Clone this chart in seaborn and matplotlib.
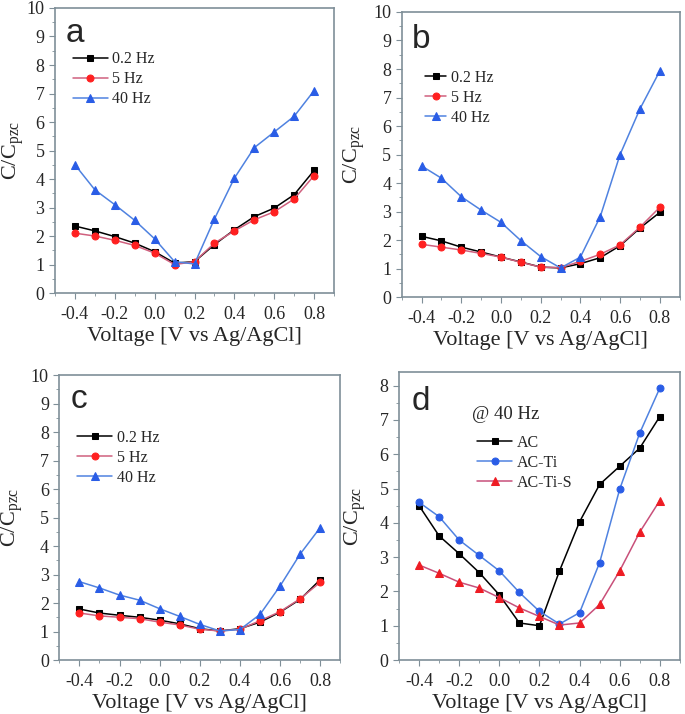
import numpy as np
import pandas as pd
import matplotlib
matplotlib.use('Agg')
import matplotlib.pyplot as plt
import seaborn as sns

sns.set_style('ticks')
plt.rcParams['font.family'] = ['Liberation Serif', 'DejaVu Serif']
plt.rcParams['mathtext.fontset'] = 'stix'

# voltages [V vs Ag/AgCl]
voltage = [-0.4, -0.3, -0.2, -0.1, 0.0, 0.1, 0.2, 0.3, 0.4, 0.5, 0.6, 0.7, 0.8]

# panel a: AC
a_02hz = [2.35, 2.18, 1.98, 1.75, 1.45, 1.05, 1.10, 1.70, 2.22, 2.68, 2.98, 3.45, 4.30]
a_5hz = [2.10, 2.00, 1.85, 1.67, 1.40, 1.00, 1.10, 1.75, 2.18, 2.57, 2.85, 3.30, 4.12]
a_40hz = [4.50, 3.62, 3.10, 2.55, 1.90, 1.10, 1.02, 2.60, 4.03, 5.10, 5.65, 6.20, 7.10]

# panel b: AC-Ti
b_02hz = [2.13, 1.97, 1.75, 1.58, 1.40, 1.23, 1.05, 1.02, 1.17, 1.38, 1.80, 2.42, 2.97]
b_5hz = [1.85, 1.75, 1.65, 1.53, 1.40, 1.22, 1.05, 1.03, 1.25, 1.50, 1.83, 2.45, 3.15]
b_40hz = [4.60, 4.17, 3.52, 3.05, 2.62, 1.98, 1.42, 1.02, 1.40, 2.82, 5.00, 6.60, 7.93]

# panel c: AC-Ti-S
c_02hz = [1.79, 1.65, 1.57, 1.50, 1.40, 1.27, 1.10, 1.02, 1.10, 1.33, 1.68, 2.13, 2.82]
c_5hz = [1.65, 1.55, 1.50, 1.45, 1.33, 1.23, 1.08, 1.02, 1.08, 1.38, 1.70, 2.15, 2.73]
c_40hz = [2.75, 2.53, 2.28, 2.10, 1.80, 1.53, 1.25, 1.02, 1.07, 1.60, 2.60, 3.72, 4.65]

# panel d: all samples at 40 Hz
d_ac = [4.50, 3.62, 3.10, 2.55, 1.90, 1.08, 1.00, 2.60, 4.03, 5.12, 5.65, 6.18, 7.10]
d_acti = [4.60, 4.18, 3.50, 3.05, 2.60, 1.97, 1.42, 1.05, 1.38, 2.84, 4.98, 6.62, 7.93]
d_actis = [2.77, 2.53, 2.27, 2.10, 1.82, 1.52, 1.27, 1.02, 1.08, 1.62, 2.60, 3.73, 4.65]

freq_labels = ['0.2 Hz', '5 Hz', '40 Hz']
sample_labels = ['AC', 'AC-Ti', 'AC-Ti-S']

spine_col = '#7f8f98'

fig = plt.figure(figsize=(6.85, 7.14), dpi=100)
ax_a = fig.add_axes([0.0803, 0.5896, 0.4073, 0.3992])
ax_b = fig.add_axes([0.5864, 0.5840, 0.4058, 0.3992])
ax_c = fig.add_axes([0.0866, 0.0756, 0.4102, 0.3990])
ax_d = fig.add_axes([0.5825, 0.0756, 0.4100, 0.4034])

freq_styles = [
    dict(line='black', mk='black', marker='s', ms=4.5),
    dict(line='#d0607e', mk='#ff2020', marker='o', ms=5),
    dict(line='#4f82e0', mk='#2a5de6', marker='^', ms=6),
]
sample_styles = [
    dict(line='black', mk='black', marker='s', ms=4.5),
    dict(line='#4f82e0', mk='#2a5de6', marker='o', ms=5),
    dict(line='#c8507a', mk='#ee1c24', marker='^', ms=6),
]


def draw(ax, series, labels, styles):
    for y, lab, st in zip(series, labels, styles):
        df = pd.DataFrame({'V': voltage, 'C': y})
        sns.lineplot(data=df, x='V', y='C', ax=ax, color=st['line'], lw=1.1,
                     marker=st['marker'], markersize=st['ms'],
                     markerfacecolor=st['mk'], markeredgecolor=st['mk'],
                     label=lab)


def style(ax, letter, ymax, yticks, letter_xy, ylab_x):
    ax.set_xlim(-0.5, 0.9)
    ax.set_ylim(0, ymax)
    ax.set_xticks([-0.4, -0.2, 0.0, 0.2, 0.4, 0.6, 0.8])
    ax.set_xticklabels(['-0.4', '-0.2', '0.0', '0.2', '0.4', '0.6', '0.8'])
    ax.set_xticks(np.arange(-0.5, 0.91, 0.1), minor=True)
    ax.set_yticks(yticks)
    ax.set_yticks(np.arange(0, ymax, 0.5), minor=True)
    ax.tick_params(axis='both', which='major', labelsize=13, length=4,
                   color=spine_col, direction='out')
    ax.tick_params(axis='x', which='major', pad=5)
    ax.tick_params(axis='both', which='minor', length=2, color=spine_col,
                   direction='out')
    for s in ax.spines.values():
        s.set_color(spine_col)
        s.set_linewidth(1.2)
    ax.set_xlabel('Voltage [V vs Ag/AgCl]', fontsize=16, labelpad=3)
    ax.set_ylabel(r'C/C$_\mathregular{pzc}$', fontsize=16)
    ax.yaxis.set_label_coords(ylab_x, 0.5)
    ax.text(letter_xy[0], letter_xy[1], letter, transform=ax.transAxes,
            fontsize=24, family='Liberation Sans', va='baseline', ha='left')


panels = [(ax_a, [a_02hz, a_5hz, a_40hz], 'a', (0.04, 0.87), 2.2,
           (0.038, 0.881), -0.105),
          (ax_b, [b_02hz, b_5hz, b_40hz], 'b', (0.062, 0.82), 1.3,
           (0.035, 0.874), -0.126),
          (ax_c, [c_02hz, c_5hz, c_40hz], 'c', (0.04, 0.83), 2.2,
           (0.041, 0.884), -0.121)]
for ax, data, letter, anchor, hl, lxy, ylx in panels:
    draw(ax, data, freq_labels, freq_styles)
    style(ax, letter, 10, range(0, 11), lxy, ylx)
    ax.legend(loc='upper left', bbox_to_anchor=anchor, frameon=False,
              fontsize=11.5, handlelength=hl, handletextpad=0.3,
              labelspacing=0.25, borderaxespad=0)

draw(ax_d, [d_ac, d_acti, d_actis], sample_labels, sample_styles)
style(ax_d, 'd', 8.4, range(0, 9), (0.045, 0.868), -0.110)
ax_d.text(0.26, 0.851, '@ 40 Hz', transform=ax_d.transAxes, fontsize=13.5,
          va='center', ha='left')
ax_d.legend(loc='upper left', bbox_to_anchor=(0.255, 0.805), frameon=False,
            fontsize=11.5, handlelength=2.2, handletextpad=0.3,
            labelspacing=0.25, borderaxespad=0)

fig.savefig('out.png', dpi=100)
